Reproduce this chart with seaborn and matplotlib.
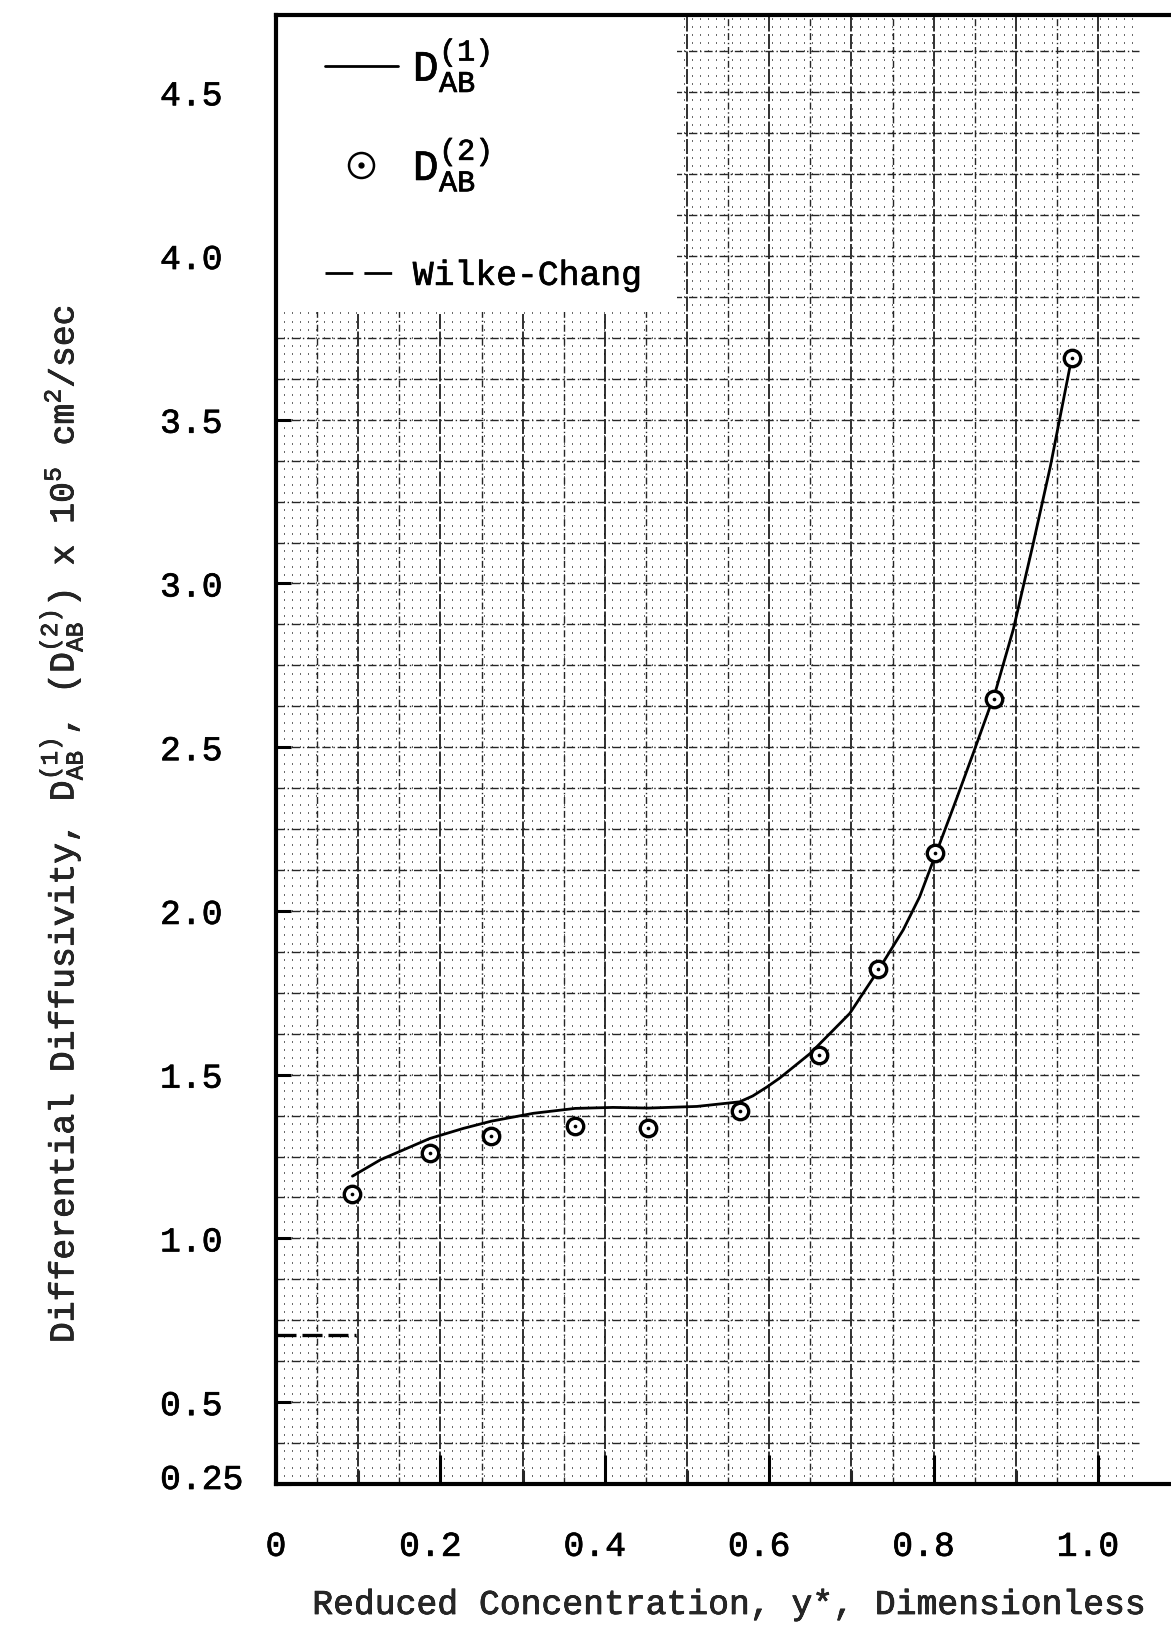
import numpy as np
import matplotlib
matplotlib.use("Agg")
import matplotlib.pyplot as plt
import matplotlib.transforms as mtransforms
import matplotlib.patheffects as pe
from matplotlib.text import Text
from matplotlib.lines import Line2D
from matplotlib.patches import Rectangle
from matplotlib.legend_handler import HandlerTuple
import seaborn as sns

# ──────────────────────────────────────────
# Data
# ──────────────────────────────────────────
# D_AB^(2) points (circle with dot)
y_star_pts = [0.093, 0.187, 0.262, 0.364, 0.453, 0.565, 0.661, 0.732, 0.802, 0.873, 0.968]
d2_pts = [1.135, 1.26, 1.312, 1.343, 1.338, 1.39, 1.56, 1.823, 2.178, 2.647, 3.689]

# D_AB^(1) smooth curve, read along its length
curve_x = [0.093, 0.127, 0.187, 0.228, 0.262, 0.313, 0.364, 0.410, 0.453, 0.512,
           0.564, 0.580, 0.597, 0.613, 0.650, 0.698, 0.733, 0.763, 0.783, 0.803,
           0.818, 0.828, 0.848, 0.875, 0.897, 0.921, 0.942, 0.954, 0.968]
curve_d1 = [1.190, 1.240, 1.305, 1.336, 1.358, 1.382, 1.397, 1.400, 1.398, 1.403,
            1.417, 1.435, 1.462, 1.490, 1.565, 1.687, 1.820, 1.942, 2.043, 2.176,
            2.276, 2.343, 2.480, 2.668, 2.860, 3.120, 3.357, 3.510, 3.689]

# Wilke-Chang estimate (short dashed segment at the left)
wc_x = [0.0, 0.097]
wc_d = [0.705, 0.705]

x_major = [0.0, 0.2, 0.4, 0.6, 0.8, 1.0]
x_major_labels = ["0", "0.2", "0.4", "0.6", "0.8", "1.0"]
x_minor = [0.1, 0.3, 0.5, 0.7, 0.9]
y_ticks = [0.25, 0.5, 1.0, 1.5, 2.0, 2.5, 3.0, 3.5, 4.0, 4.5]
y_labels = ["0.25", "0.5", "1.0", "1.5", "2.0", "2.5", "3.0", "3.5", "4.0", "4.5"]

# ──────────────────────────────────────────
# Style
# ──────────────────────────────────────────
sns.set_style("white")
plt.rcParams["font.family"] = ["Liberation Mono", "DejaVu Sans Mono"]
plt.rcParams["mathtext.fontset"] = "custom"
plt.rcParams["mathtext.rm"] = "Liberation Mono"
plt.rcParams["mathtext.it"] = "Liberation Mono"
plt.rcParams["mathtext.bf"] = "Liberation Mono:bold"
plt.rcParams["text.color"] = "black"

fig = plt.figure(figsize=(11.71, 16.27), dpi=100)
ax = fig.add_axes([276 / 1171, 1 - 1484 / 1627, 895 / 1171, 1469 / 1627])
ax.set_xlim(0, 895 / 822)
ax.set_ylim(0.25, 4.736)

# graph paper background
ax.hlines(np.arange(0.275, 4.74, 0.025), 0, 1.05, colors="0.3", linewidth=1.2,
          linestyles=[(0, (0.6, 4.2))], zorder=0.4)
ax.vlines(np.arange(0.05, 1.0, 0.1), 0.25, 4.74, colors="0.15", linewidth=1.0,
          linestyles=[(0, (5, 2, 1, 2))], zorder=0.5)
ax.vlines(np.arange(0.1, 1.01, 0.1), 0.25, 4.74, colors="0.05", linewidth=1.2,
          linestyles=[(0, (9, 1.5))], zorder=0.5)
ax.hlines(np.arange(0.375, 4.74, 0.125), 0, 1.05, colors="0.15", linewidth=1.0,
          linestyles=[(0, (6, 2, 1, 2))], zorder=0.5)
# legend area is blank on the original paper
ax.add_patch(Rectangle((0, 3.83), 0.488, 1.0, facecolor="white", edgecolor="none", zorder=0.8))

# ──────────────────────────────────────────
# Data
# ──────────────────────────────────────────
sns.lineplot(x=curve_x, y=curve_d1, ax=ax, color="black", linewidth=2.0, sort=False, zorder=3)
sns.lineplot(x=wc_x, y=wc_d, ax=ax, color="black", linewidth=2.4, zorder=3)
ax.lines[-1].set_linestyle((0, (6, 1.8)))
sns.scatterplot(x=y_star_pts, y=d2_pts, ax=ax, marker="o", s=140, facecolor="white",
                edgecolor="black", linewidth=2.4, zorder=4)
sns.scatterplot(x=y_star_pts, y=d2_pts, ax=ax, marker="o", s=7, color="black",
                linewidth=0, zorder=5)

# ──────────────────────────────────────────
# Axes, ticks, labels
# ──────────────────────────────────────────
for side in ["left", "bottom", "top"]:
    ax.spines[side].set_linewidth(3)
    ax.spines[side].set_color("black")
ax.spines["right"].set_visible(False)

ax.set_xticks(x_major)
ax.set_xticklabels(x_major_labels)
ax.set_xticks(x_minor, minor=True)
ax.set_yticks(y_ticks)
ax.set_yticklabels(y_labels)
ax.tick_params(axis="x", which="major", bottom=True, direction="in", length=21,
               width=2.2, pad=33, labelsize=25, colors="black")
ax.tick_params(axis="x", which="minor", bottom=True, direction="in", length=10, width=2.2)
ax.tick_params(axis="y", which="major", left=True, direction="in", length=11,
               width=2.2, pad=83.5, labelsize=25, colors="black")
for lab in ax.get_yticklabels():
    lab.set_horizontalalignment("left")

shift_left = mtransforms.ScaledTranslation(-10 / 100, 0, fig.dpi_scale_trans)
for lab in ax.get_xticklabels()[1:]:
    lab.set_transform(lab.get_transform() + shift_left)
ax.get_yticklabels()[0].set_transform(
    ax.get_yticklabels()[0].get_transform() + mtransforms.ScaledTranslation(0, 8 / 100, fig.dpi_scale_trans))

ax.set_xlabel("Reduced Concentration, y*, Dimensionless", fontsize=25)
ax.xaxis.set_label_coords(0.507, -0.0708)
ax.set_ylabel(r"Differential Diffusivity, $\mathrm{D}_{\mathrm{AB}}^{(1)}$, "
              r"($\mathrm{D}_{\mathrm{AB}}^{(2)}$) x 10$^5$ cm$^2$/sec", fontsize=25)
ax.yaxis.set_label_coords(-0.2134, 0.4496)

# legend: the two D entries, then Wilke-Chang set a little lower
h1 = Line2D([], [], color="black", linewidth=2.0)
h2 = (Line2D([], [], linestyle="none", marker="o", markersize=18, markerfacecolor="white",
             markeredgecolor="black", markeredgewidth=1.8),
      Line2D([], [], linestyle="none", marker="o", markersize=3.5, color="black"))
h3 = Line2D([], [], color="black", linewidth=2.0, linestyle=(0, (10, 4)))
leg = ax.legend([h1, h2],
                [r"$\mathrm{D}_{\mathrm{AB}}^{(1)}$", r"$\mathrm{D}_{\mathrm{AB}}^{(2)}$"],
                loc="upper left", bbox_to_anchor=(0.0547, 0.985), frameon=False, fontsize=31,
                handlelength=1.69, handletextpad=0.35, labelspacing=0.97, borderpad=0,
                borderaxespad=0, handler_map={tuple: HandlerTuple(ndivide=1)})
ax.add_artist(leg)
ax.legend([h3], ["Wilke-Chang"], loc="upper left", bbox_to_anchor=(0.0547, 0.834),
          frameon=False, fontsize=25, handlelength=2.1, handletextpad=0.43,
          borderpad=0, borderaxespad=0)

# typewriter strokes are a bit heavier than Liberation Mono
for t in fig.findobj(Text):
    t.set_path_effects([pe.withStroke(linewidth=0.5, foreground="black")])

fig.savefig("out.png", dpi=100, facecolor="white")
